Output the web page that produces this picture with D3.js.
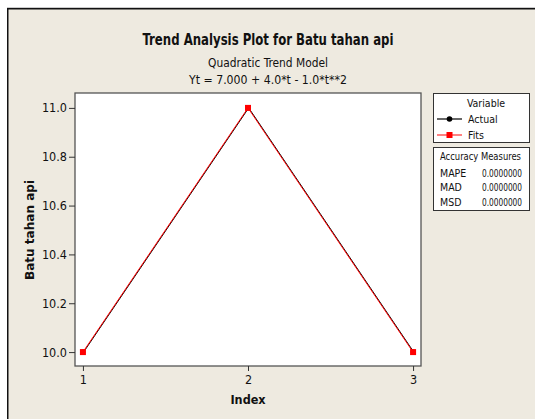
<!DOCTYPE html>
<html>
<head>
<meta charset="utf-8">
<script src="https://cdn.jsdelivr.net/npm/d3@7"></script>
<style>
  html, body { margin: 0; padding: 0; background: #fff; }
  svg text { font-family: "DejaVu Sans Condensed", "Liberation Sans Narrow", "Liberation Sans", sans-serif; fill: #111; }
</style>
</head>
<body>
<div id="chart"></div>
<script>
// data
const index = [1, 2, 3];
const actual = [10.0, 11.0, 10.0];
const fits = [10.0, 11.0, 10.0];
const yTicks = [10.0, 10.2, 10.4, 10.6, 10.8, 11.0];
const xTicks = [1, 2, 3];
const accuracyNames = ['MAPE', 'MAD', 'MSD'];
const accuracyValues = ['0.0000000', '0.0000000', '0.0000000'];

const W = 535, H = 419;
const BG = '#eeeae0';
const box = { left: 75, top: 93, right: 421, bottom: 366 };

const svg = d3.select('#chart').append('svg')
    .attr('width', W)
    .attr('height', H)
    .attr('xmlns', 'http://www.w3.org/2000/svg');

// outer panel
svg.append('rect').attr('x', 7).attr('y', 8).attr('width', W - 7).attr('height', H - 8).attr('fill', BG);
svg.append('line').attr('x1', 7).attr('y1', 7.5).attr('x2', W).attr('y2', 7.5).attr('stroke', '#ccc');
svg.append('path')
    .attr('d', 'M7.75,' + H + 'V8.75H' + W)
    .attr('fill', 'none').attr('stroke', '#111').attr('stroke-width', 1.5);

// titles
const titles = [
    { t: 'Trend Analysis Plot for Batu tahan api', y: 45, size: 15, w: 251, bold: true },
    { t: 'Quadratic Trend Model', y: 67, size: 12, w: 120 },
    { t: 'Yt = 7.000 + 4.0*t - 1.0*t**2', y: 84, size: 12, w: 158 }
];
titles.forEach(d => {
    svg.append('text')
        .attr('x', 268).attr('y', d.y)
        .attr('text-anchor', 'middle')
        .attr('font-size', d.size)
        .attr('font-weight', d.bold ? 'bold' : 'normal')
        .attr('textLength', d.w)
        .attr('lengthAdjust', 'spacingAndGlyphs')
        .text(d.t);
});

const x = d3.scaleLinear().domain([0.952, 3.048]).range([box.left, box.right]);
const y = d3.scaleLinear().domain([9.943, 11.061]).range([box.bottom, box.top]);

// plot area
svg.append('rect')
    .attr('x', box.left).attr('y', box.top)
    .attr('width', box.right - box.left).attr('height', box.bottom - box.top)
    .attr('fill', '#fff').attr('stroke', '#555').attr('stroke-width', 1.3);

// axes
const yAxis = svg.append('g')
    .attr('transform', 'translate(' + box.left + ',0)')
    .call(d3.axisLeft(y).tickValues(yTicks).tickFormat(d3.format('.1f')).tickSize(6).tickPadding(2).tickSizeOuter(0));
const xAxis = svg.append('g')
    .attr('transform', 'translate(0,' + box.bottom + ')')
    .call(d3.axisBottom(x).tickValues(xTicks).tickFormat(d3.format('d')).tickSize(5).tickPadding(4).tickSizeOuter(0));
[yAxis, xAxis].forEach(g => {
    g.select('.domain').remove();
    g.selectAll('.tick line').attr('stroke', '#333');
    g.selectAll('.tick text').attr('font-size', 12.5).attr('fill', '#111')
        .style('font-family', '"DejaVu Sans Condensed", "Liberation Sans", sans-serif');
});

// axis titles
svg.append('text')
    .attr('x', 248).attr('y', 404)
    .attr('text-anchor', 'middle')
    .attr('font-size', 12.5).attr('font-weight', 'bold')
    .text('Index');
svg.append('text')
    .attr('transform', 'translate(34,230)rotate(-90)')
    .attr('text-anchor', 'middle')
    .attr('font-size', 12.5).attr('font-weight', 'bold')
    .attr('textLength', 100).attr('lengthAdjust', 'spacingAndGlyphs')
    .text('Batu tahan api');

// series
const pts = (vals) => index.map((t, i) => [t, vals[i]]);
const line = d3.line().x(d => x(d[0])).y(d => y(d[1]));

svg.append('path').datum(pts(actual))
    .attr('d', line).attr('fill', 'none').attr('stroke', '#000').attr('stroke-width', 1)
    .attr('transform', 'translate(0.7,0)');
svg.append('path').datum(pts(fits))
    .attr('d', line).attr('fill', 'none').attr('stroke', '#ff0000').attr('stroke-width', 1);

svg.selectAll('circle.actual').data(pts(actual)).enter().append('circle')
    .attr('class', 'actual')
    .attr('cx', d => x(d[0])).attr('cy', d => y(d[1])).attr('r', 2.5).attr('fill', '#000');
svg.selectAll('rect.fit').data(pts(fits)).enter().append('rect')
    .attr('class', 'fit')
    .attr('x', d => x(d[0]) - 3).attr('y', d => y(d[1]) - 3)
    .attr('width', 6).attr('height', 6).attr('fill', '#ff0000');

// legend: variables
const lg = svg.append('g');
lg.append('rect').attr('x', 433.5).attr('y', 93.5).attr('width', 96).attr('height', 49)
    .attr('fill', '#fff').attr('stroke', '#333');
lg.append('text').attr('x', 486).attr('y', 107).attr('text-anchor', 'middle').attr('font-size', 10.5).text('Variable');

const legendItems = [
    { name: 'Actual', color: '#000', shape: 'circle', y: 119 },
    { name: 'Fits', color: '#ff3030', shape: 'square', y: 135 }
];
legendItems.forEach(d => {
    lg.append('line').attr('x1', 437).attr('x2', 462).attr('y1', d.y).attr('y2', d.y)
        .attr('stroke', d.color).attr('stroke-width', 1.2);
    if (d.shape === 'circle') {
        lg.append('circle').attr('cx', 449.5).attr('cy', d.y).attr('r', 2.8).attr('fill', d.color);
    } else {
        lg.append('rect').attr('x', 446.5).attr('y', d.y - 3).attr('width', 6).attr('height', 6).attr('fill', '#ff0000');
    }
    lg.append('text').attr('x', 468).attr('y', d.y + 3.5).attr('font-size', 10.5).text(d.name);
});

// legend: accuracy measures
const acc = svg.append('g');
acc.append('rect').attr('x', 433.5).attr('y', 147.5).attr('width', 96).attr('height', 63)
    .attr('fill', '#fff').attr('stroke', '#333');
acc.append('text').attr('x', 440).attr('y', 160).attr('font-size', 10.5)
    .attr('textLength', 81).attr('lengthAdjust', 'spacingAndGlyphs').text('Accuracy Measures');
accuracyNames.forEach((n, i) => {
    const yy = 176.5 + i * 14.5;
    acc.append('text').attr('x', 440).attr('y', yy).attr('font-size', 10.5).text(n);
    acc.append('text').attr('x', 482).attr('y', yy).attr('font-size', 10.5)
        .attr('textLength', 40).attr('lengthAdjust', 'spacingAndGlyphs').text(accuracyValues[i]);
});
</script>
</body>
</html>
